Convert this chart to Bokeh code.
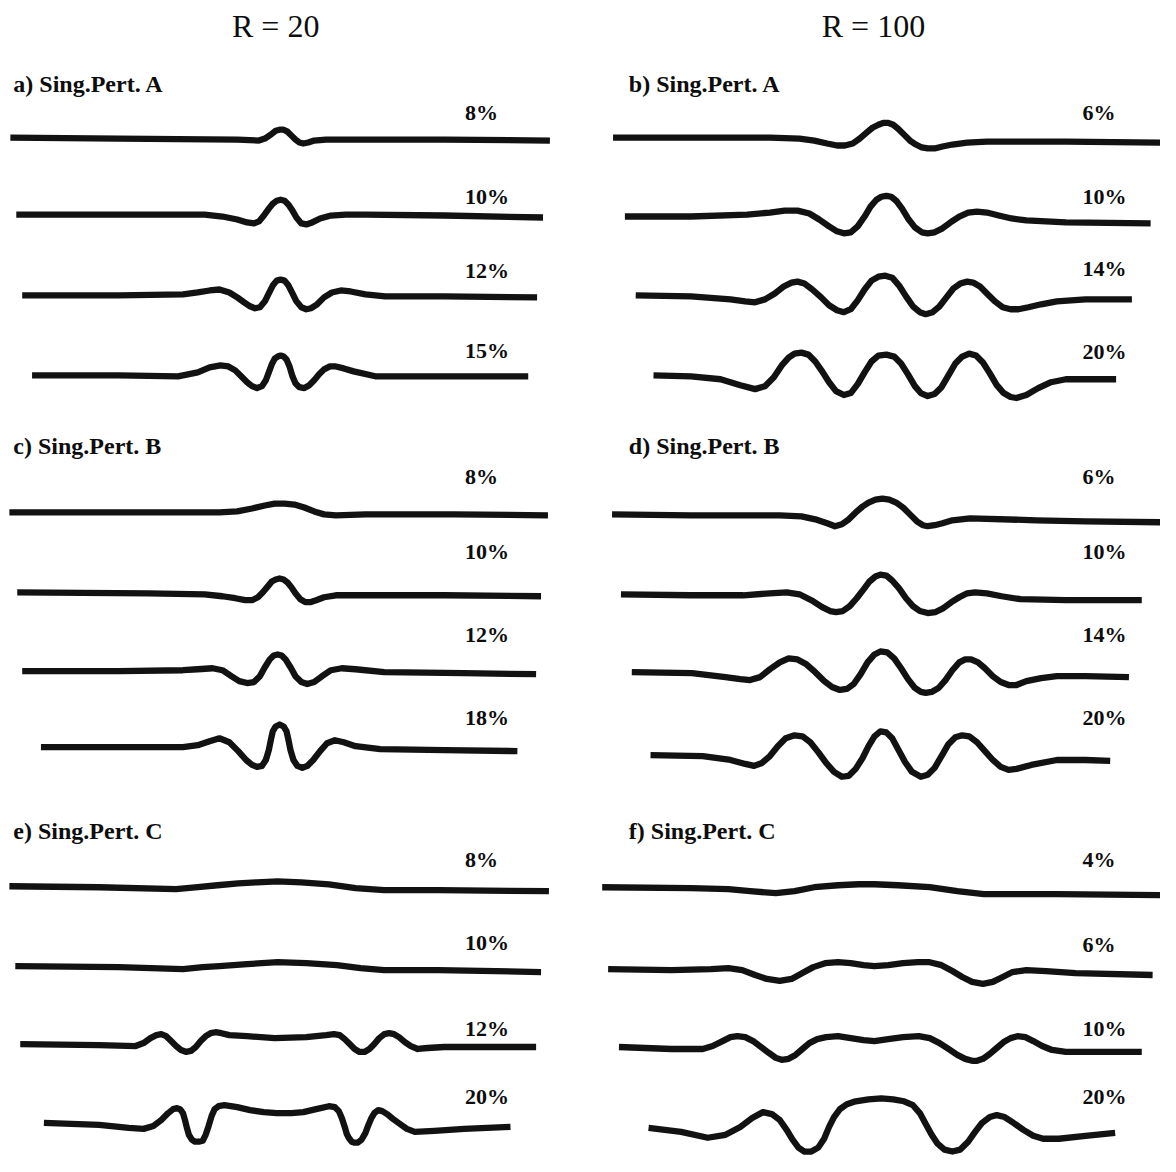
from bokeh.plotting import figure
from bokeh.models import Range1d
from bokeh.embed import file_html
from bokeh.resources import INLINE
from bokeh.core.properties import value

# ---------------- text content ----------------
column_titles = ["R = 20", "R = 100"]
title_x = [279, 885]
title_y = [26, 26]

panel_labels = ["a) Sing.Pert. A", "b) Sing.Pert. A",
                "c) Sing.Pert. B", "d) Sing.Pert. B",
                "e) Sing.Pert. C", "f) Sing.Pert. C"]
panel_x = [13, 637, 13, 637, 13, 637]
panel_y = [85, 85, 452, 452, 842, 842]

pct_labels = ["8%", "10%", "12%", "15%",
              "6%", "10%", "14%", "20%",
              "8%", "10%", "12%", "18%",
              "6%", "10%", "14%", "20%",
              "8%", "10%", "12%", "20%",
              "4%", "6%", "10%", "20%"]
pct_x = [471] * 4 + [1097] * 4 + [471] * 4 + [1097] * 4 + [471] * 4 + [1097] * 4
pct_y = [114, 199, 274, 355,
         114, 199, 272, 356,
         483, 559, 643, 727,
         483, 559, 643, 727,
         871, 955, 1042, 1111,
         871, 957, 1042, 1111]

# ---------------- profiles ----------------
# a) R=20, Sing.Pert. A
a8_x = [10, 120, 240, 262, 268, 274, 279, 283, 287, 291, 295, 299, 303, 307, 312, 318, 330, 360, 450, 557]
a8_y = [139, 140, 141, 142, 140, 136, 132, 131, 131, 133, 137, 141, 144, 145, 144, 142, 141, 141, 141, 142]
a10_x = [16, 120, 207, 225, 240, 250, 257, 262, 267, 272, 276, 280, 284, 288, 292, 296, 300, 305, 310, 316, 324, 335, 350, 370, 450, 550]
a10_y = [217, 217, 217, 219, 222, 225, 226, 224, 218, 211, 206, 203, 202, 203, 207, 213, 220, 226, 227, 225, 221, 218, 217, 217, 218, 220]
a12_x = [22, 120, 185, 200, 212, 222, 232, 240, 247, 253, 258, 263, 268, 272, 276, 280, 284, 288, 292, 296, 300, 305, 310, 315, 321, 328, 336, 345, 355, 370, 390, 450, 544]
a12_y = [299, 299, 298, 296, 294, 293, 296, 301, 306, 310, 312, 311, 305, 297, 289, 284, 283, 284, 289, 297, 305, 311, 313, 312, 308, 301, 296, 294, 295, 298, 300, 300, 301]
a15_x = [32, 120, 180, 200, 212, 223, 231, 238, 244, 250, 255, 260, 265, 269, 272, 275, 278, 281, 284, 287, 290, 293, 296, 299, 303, 308, 313, 318, 323, 328, 334, 340, 348, 358, 380, 450, 535]
a15_y = [380, 380, 381, 377, 372, 370, 371, 375, 381, 387, 391, 393, 391, 385, 377, 369, 363, 361, 360, 361, 364, 371, 381, 388, 392, 393, 390, 385, 379, 374, 371, 371, 373, 376, 381, 381, 381]

# b) R=100, Sing.Pert. A
b6_x = [621, 700, 780, 810, 825, 838, 848, 856, 864, 871, 878, 884, 890, 895, 900, 905, 910, 916, 922, 928, 934, 940, 947, 955, 965, 980, 1000, 1030, 1080, 1176]
b6_y = [139, 139, 139, 140, 142, 145, 147, 147, 145, 140, 134, 129, 126, 124, 124, 126, 130, 136, 142, 146, 149, 150, 150, 148, 146, 144, 143, 143, 143, 144]
b10_x = [633, 700, 757, 780, 795, 808, 820, 830, 840, 848, 855, 862, 869, 876, 882, 888, 893, 898, 903, 908, 914, 920, 927, 934, 940, 947, 955, 963, 972, 981, 990, 1000, 1012, 1025, 1040, 1080, 1166]
b10_y = [219, 219, 217, 215, 213, 213, 216, 222, 229, 234, 236, 235, 229, 219, 209, 202, 199, 198, 199, 203, 211, 221, 230, 235, 236, 235, 231, 225, 219, 215, 214, 215, 218, 221, 223, 225, 226]
b14_x = [644, 700, 740, 755, 765, 775, 785, 794, 802, 808, 815, 823, 832, 840, 848, 855, 862, 869, 876, 883, 890, 897, 904, 911, 918, 925, 932, 938, 945, 952, 959, 966, 973, 980, 986, 993, 1000, 1008, 1016, 1024, 1032, 1042, 1055, 1071, 1100, 1147]
b14_y = [299, 300, 303, 305, 306, 303, 297, 290, 286, 285, 287, 293, 301, 309, 314, 316, 313, 304, 293, 284, 280, 279, 281, 289, 300, 310, 316, 318, 316, 310, 301, 292, 287, 285, 286, 290, 297, 305, 311, 313, 313, 311, 308, 305, 303, 303]
b20_x = [662, 700, 730, 750, 765, 775, 784, 792, 799, 805, 812, 819, 826, 833, 840, 847, 855, 862, 869, 876, 883, 890, 898, 906, 913, 920, 927, 933, 940, 947, 954, 961, 968, 975, 982, 989, 996, 1003, 1010, 1017, 1024, 1030, 1040, 1052, 1065, 1080, 1131]
b20_y = [380, 381, 384, 390, 394, 391, 382, 370, 362, 358, 357, 359, 366, 376, 387, 396, 400, 398, 389, 377, 366, 360, 359, 361, 368, 379, 391, 398, 401, 399, 392, 380, 368, 361, 358, 360, 367, 378, 390, 398, 402, 403, 400, 393, 387, 384, 384]

# c) R=20, Sing.Pert. B
c8_x = [9, 120, 222, 240, 255, 268, 278, 288, 298, 308, 318, 328, 340, 370, 460, 555]
c8_y = [519, 519, 519, 518, 515, 512, 510, 510, 511, 514, 518, 521, 522, 521, 521, 522]
c10_x = [17, 150, 207, 225, 238, 248, 255, 261, 266, 271, 275, 279, 283, 287, 291, 295, 299, 304, 309, 314, 320, 328, 340, 360, 450, 548]
c10_y = [600, 601, 602, 604, 606, 608, 608, 605, 600, 594, 589, 587, 586, 587, 590, 595, 601, 607, 610, 610, 608, 605, 603, 603, 603, 604]
c12_x = [22, 120, 185, 200, 215, 225, 234, 242, 250, 257, 263, 268, 273, 277, 281, 285, 289, 294, 299, 305, 311, 318, 326, 335, 346, 360, 389, 470, 543]
c12_y = [680, 680, 679, 678, 677, 679, 685, 690, 692, 691, 685, 676, 668, 664, 663, 664, 668, 676, 685, 691, 693, 691, 685, 679, 677, 678, 681, 682, 683]
c18_x = [41, 120, 185, 200, 212, 222, 232, 241, 249, 255, 260, 265, 269, 272, 274, 276, 279, 283, 287, 290, 292, 294, 297, 301, 306, 311, 317, 324, 331, 339, 348, 360, 385, 450, 524]
c18_y = [757, 757, 757, 755, 751, 748, 752, 761, 770, 775, 777, 776, 770, 760, 750, 741, 736, 734, 736, 741, 750, 760, 770, 776, 778, 776, 770, 761, 753, 750, 752, 756, 759, 760, 761]

# d) R=100, Sing.Pert. B
d6_x = [620, 700, 790, 812, 826, 838, 846, 853, 860, 867, 874, 880, 887, 894, 901, 908, 915, 922, 929, 935, 940, 947, 955, 965, 983, 1050, 1100, 1176]
d6_y = [521, 522, 522, 523, 526, 530, 533, 531, 526, 519, 513, 509, 506, 505, 506, 509, 514, 521, 528, 532, 533, 532, 530, 527, 525, 527, 528, 529]
d10_x = [629, 700, 753, 780, 797, 810, 822, 833, 841, 847, 854, 861, 868, 875, 881, 887, 892, 898, 904, 911, 918, 925, 932, 940, 948, 956, 964, 972, 980, 988, 1000, 1015, 1034, 1080, 1157]
d10_y = [602, 603, 603, 601, 600, 602, 608, 615, 619, 620, 619, 614, 606, 597, 589, 584, 582, 583, 588, 596, 606, 614, 619, 621, 620, 616, 610, 605, 601, 600, 601, 604, 607, 608, 608]
d14_x = [640, 701, 735, 750, 760, 770, 780, 790, 799, 808, 817, 826, 835, 843, 851, 858, 865, 872, 879, 886, 892, 899, 906, 913, 920, 927, 933, 938, 944, 951, 958, 965, 972, 978, 984, 991, 998, 1006, 1014, 1022, 1030, 1040, 1055, 1071, 1100, 1144]
d14_y = [681, 682, 686, 688, 689, 686, 678, 671, 667, 668, 673, 681, 690, 696, 699, 698, 693, 683, 671, 663, 660, 661, 667, 677, 688, 697, 701, 702, 701, 697, 689, 679, 671, 668, 668, 671, 677, 685, 691, 694, 694, 690, 687, 685, 685, 686]
d20_x = [659, 712, 740, 755, 764, 772, 780, 788, 796, 805, 813, 821, 829, 837, 845, 853, 860, 867, 874, 880, 886, 892, 898, 904, 910, 917, 924, 933, 940, 947, 954, 961, 968, 975, 982, 990, 998, 1006, 1014, 1022, 1030, 1045, 1071, 1100, 1125]
d20_y = [765, 766, 770, 774, 776, 773, 766, 756, 748, 745, 746, 752, 762, 773, 782, 787, 786, 779, 768, 756, 746, 741, 742, 748, 759, 772, 782, 787, 785, 778, 766, 754, 747, 745, 746, 752, 761, 770, 777, 780, 779, 775, 770, 770, 771]

# e) R=20, Sing.Pert. C
e8_x = [9, 100, 178, 200, 220, 241, 260, 281, 305, 333, 360, 389, 444, 556]
e8_y = [898, 899, 901, 899, 897, 895, 894, 893, 894, 896, 900, 902, 902, 903]
e10_x = [15, 120, 185, 205, 222, 250, 281, 310, 341, 365, 389, 444, 548]
e10_y = [979, 980, 982, 980, 979, 977, 975, 976, 978, 981, 983, 983, 985]
e12_x = [20, 100, 137, 145, 152, 158, 163, 168, 173, 178, 183, 188, 193, 198, 203, 208, 213, 218, 224, 232, 250, 278, 310, 330, 338, 344, 349, 354, 359, 364, 369, 374, 379, 384, 389, 394, 399, 404, 410, 416, 423, 433, 450, 470, 543]
e12_y = [1058, 1059, 1060, 1057, 1052, 1049, 1048, 1050, 1055, 1060, 1064, 1066, 1065, 1061, 1055, 1050, 1047, 1046, 1047, 1049, 1050, 1052, 1051, 1049, 1048, 1049, 1053, 1058, 1063, 1066, 1066, 1063, 1058, 1052, 1048, 1047, 1048, 1051, 1056, 1060, 1063, 1062, 1061, 1061, 1061]
e20_x = [44, 100, 130, 145, 155, 163, 170, 175, 179, 182, 185, 187, 189, 191, 194, 197, 201, 205, 208, 211, 214, 217, 221, 227, 240, 253, 267, 280, 295, 307, 320, 333, 339, 343, 346, 349, 351, 353, 356, 359, 362, 366, 370, 373, 376, 379, 383, 387, 392, 398, 405, 412, 420, 440, 470, 517]
e20_y = [1138, 1140, 1143, 1144, 1141, 1135, 1128, 1124, 1123, 1124, 1128, 1135, 1143, 1150, 1155, 1157, 1157, 1156, 1150, 1141, 1131, 1124, 1121, 1120, 1122, 1125, 1127, 1128, 1128, 1127, 1124, 1121, 1122, 1126, 1133, 1142, 1149, 1153, 1157, 1158, 1158, 1155, 1148, 1140, 1133, 1128, 1125, 1126, 1129, 1134, 1139, 1144, 1147, 1146, 1144, 1142]

# f) R=100, Sing.Pert. C
f4_x = [610, 700, 738, 760, 786, 805, 825, 849, 870, 886, 910, 942, 970, 997, 1030, 1071, 1176]
f4_y = [899, 900, 901, 903, 905, 903, 899, 897, 896, 896, 897, 899, 903, 906, 906, 906, 907]
f6_x = [616, 680, 720, 738, 752, 765, 777, 790, 802, 813, 824, 836, 849, 862, 875, 886, 900, 915, 930, 942, 954, 965, 975, 985, 996, 1006, 1016, 1026, 1040, 1060, 1090, 1168]
f6_y = [982, 983, 982, 981, 983, 988, 992, 994, 992, 986, 980, 976, 975, 976, 978, 979, 978, 976, 975, 975, 978, 984, 990, 995, 997, 995, 990, 985, 983, 984, 986, 988]
f10_x = [627, 680, 712, 722, 732, 740, 747, 755, 763, 771, 779, 786, 792, 799, 806, 813, 820, 828, 837, 849, 862, 875, 886, 900, 915, 931, 942, 952, 961, 970, 978, 985, 990, 996, 1003, 1010, 1017, 1024, 1031, 1039, 1047, 1056, 1066, 1080, 1157]
f10_y = [1061, 1063, 1063, 1060, 1055, 1051, 1050, 1051, 1055, 1061, 1067, 1072, 1074, 1073, 1069, 1063, 1057, 1053, 1051, 1050, 1052, 1054, 1055, 1053, 1051, 1050, 1052, 1057, 1063, 1069, 1073, 1075, 1075, 1073, 1068, 1062, 1056, 1052, 1050, 1051, 1055, 1060, 1064, 1066, 1066]
f20_x = [657, 690, 717, 735, 750, 762, 773, 782, 790, 797, 803, 809, 815, 822, 829, 835, 840, 845, 851, 858, 867, 880, 893, 905, 916, 925, 932, 938, 944, 950, 957, 965, 973, 981, 988, 995, 1003, 1010, 1018, 1027, 1037, 1047, 1057, 1073, 1100, 1130]
f20_y = [1143, 1147, 1153, 1150, 1142, 1133, 1127, 1129, 1135, 1145, 1155, 1163, 1167, 1167, 1163, 1154, 1142, 1132, 1124, 1119, 1116, 1114, 1113, 1114, 1116, 1120, 1128, 1139, 1150, 1159, 1165, 1167, 1165, 1157, 1147, 1138, 1132, 1130, 1132, 1138, 1145, 1151, 1154, 1154, 1151, 1148]

curves_x = [a8_x, a10_x, a12_x, a15_x, b6_x, b10_x, b14_x, b20_x,
            c8_x, c10_x, c12_x, c18_x, d6_x, d10_x, d14_x, d20_x,
            e8_x, e10_x, e12_x, e20_x, f4_x, f6_x, f10_x, f20_x]
curves_y = [a8_y, a10_y, a12_y, a15_y, b6_y, b10_y, b14_y, b20_y,
            c8_y, c10_y, c12_y, c18_y, d6_y, d10_y, d14_y, d20_y,
            e8_y, e10_y, e12_y, e20_y, f4_y, f6_y, f10_y, f20_y]

# ---------------- figure ----------------
W, H = 1160, 1156
p = figure(width=W, height=H, output_backend="svg", toolbar_location=None,
           x_axis_location=None, y_axis_location=None,
           x_range=Range1d(0, 1176), y_range=Range1d(1172, 0),
           min_border=0, outline_line_color=None)
p.xgrid.visible = False
p.ygrid.visible = False
p.background_fill_color = "white"
p.border_fill_color = "white"

p.multi_line(xs=curves_x, ys=curves_y, line_color="#121212", line_width=6.3,
             line_join="round", line_cap="butt")

serif = value("Liberation Serif")

p.text(x=title_x, y=title_y, text=column_titles, text_font=serif,
       text_font_size="32px", text_align="center", text_baseline="middle",
       text_color="#0d0d0d")

p.text(x=panel_x, y=panel_y, text=panel_labels, text_font=serif,
       text_font_size="24px", text_font_style="bold", text_align="left",
       text_baseline="middle", text_color="#0d0d0d")

p.text(x=pct_x, y=pct_y, text=pct_labels, text_font=serif,
       text_font_size="22px", text_font_style="bold", text_align="left",
       text_baseline="middle", text_color="#0d0d0d")

open("out.html", "w").write(file_html(p, INLINE))
